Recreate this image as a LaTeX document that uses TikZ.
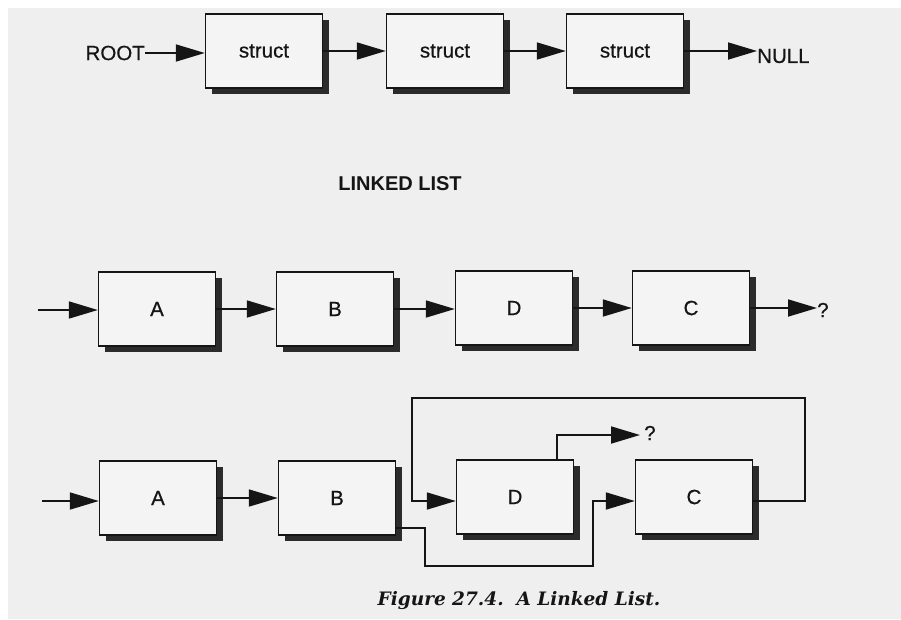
\documentclass[tikz,border=0pt]{standalone}
\usepackage{fontspec}
\setmainfont{Liberation Sans}
\newfontfamily\medfont{Liberation Sans}[FakeBold=0.6]
\newfontfamily\capfont{DejaVu Serif}
\usetikzlibrary{arrows.meta,shadows}
\definecolor{paper}{HTML}{EFEFEF}
\definecolor{boxfill}{HTML}{F4F4F4}
\definecolor{shade}{HTML}{2B2B2B}
\definecolor{ink}{HTML}{151515}
\begin{document}
\begin{tikzpicture}[x=1pt,y=-1pt,
  box/.style={draw=ink, line width=1.4pt, fill=boxfill, minimum width=117pt,
    minimum height=74pt, inner sep=0pt, text=ink, font=\medfont\fontsize{20.5}{24}\selectfont,
    drop shadow={shadow xshift=6.5pt, shadow yshift=-5.5pt, fill=shade, opacity=1}},
  lbl/.style={font=\medfont\fontsize{20.5}{24}\selectfont, text=ink, inner sep=0pt},
  arr/.style={draw=ink, line width=1.8pt, -{Triangle[length=29pt,width=17pt]}},
  link/.style={draw=ink, line width=1.8pt}]
\useasboundingbox (0,0) rectangle (901,619);
\fill[white] (0,0) rectangle (901,619);
\fill[paper] (8,8) rectangle (901,619);

% top row
\node[lbl, anchor=east] (root) at (145,53) {ROOT};
\node[box] (s1) at (264,51) {struct};
\node[box] (s2) at (445,51) {struct};
\node[box] (s3) at (625,51) {struct};
\node[lbl, anchor=west] (null) at (757,56) {NULL};
\draw[arr] (root.east) -- (root.east -| s1.west);
\draw[arr] (s1.east) -- (s1.east -| s2.west);
\draw[arr] (s2.east) -- (s2.east -| s3.west);
\draw[arr] (s3.east) -- (s3.east -| null.west);

\node[lbl, font=\bfseries\fontsize{20}{24}\selectfont] (title) at (400,184) {LINKED LIST};

% middle row
\coordinate (in1) at (38,310);
\node[box] (a1) at (157,309) {A};
\node[box] (b1) at (335,309) {B};
\node[box] (d1) at (514,308) {D};
\node[box] (c1) at (691,308) {C};
\node[lbl, anchor=west] (q1) at (817,310) {?};
\draw[arr] (in1) -- (in1 -| a1.west);
\draw[arr] (a1.east) -- (a1.east -| b1.west);
\draw[arr] (b1.east) -- (b1.east -| d1.west);
\draw[arr] (d1.east) -- (d1.east -| c1.west);
\draw[arr] (c1.east) -- (c1.east -| q1.west);

% bottom row
\coordinate (in2) at (42,501);
\node[box] (a2) at (158,498) {A};
\node[box] (b2) at (337,498) {B};
\node[box] (d2) at (515,497) {D};
\node[box] (c2) at (694,497) {C};
\node[lbl, anchor=west] (q2) at (644,433) {?};
\coordinate (dtop) at (557,460);
\draw[arr] (in2) -- (in2 -| a2.west);
\draw[arr] (a2.east) -- (a2.east -| b2.west);
% C back to D (loop over the top)
\draw[arr] ([yshift=-4pt]c2.east) -- (805,501) -- (805,398) -- (412,398) -- (412,501) -- ([yshift=-4pt]d2.west);
% B to C (loop underneath)
\draw[arr] ([yshift=-30pt]b2.east) -- (425,528) -- (425,566) -- (593,566) -- (593,501) -- ([yshift=-4pt]c2.west);
% D to ?
\draw[arr] (dtop |- d2.north) -- (557,435) -- (640,435);

% caption
\node[text=ink, inner sep=0pt, font=\capfont\bfseries\itshape\fontsize{18.5}{22}\selectfont] (cap) at (519,601) {Figure 27.4.\ \ A Linked List.};
\end{tikzpicture}
\end{document}
